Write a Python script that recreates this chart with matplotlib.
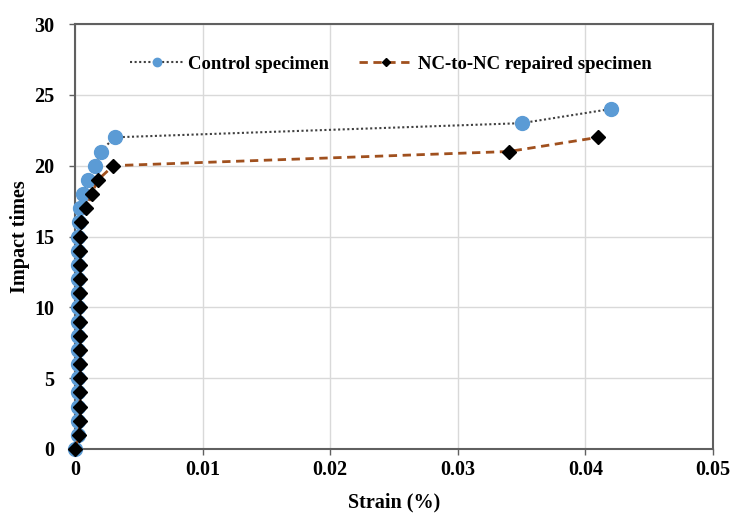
import matplotlib
matplotlib.use("Agg")
import matplotlib.pyplot as plt

impacts_control = list(range(0, 25))
strain_control = [0, 0.0002, 0.0002, 0.0002, 0.0002, 0.0002, 0.0002, 0.0002, 0.0002, 0.0002,
                  0.0002, 0.0002, 0.0002, 0.0002, 0.0002, 0.0002, 0.0003, 0.0004, 0.0006, 0.001,
                  0.0016, 0.002, 0.0031, 0.035, 0.042]
impacts_nc = list(range(0, 23))
strain_nc = [0, 0.0003, 0.0004, 0.0004, 0.0004, 0.0004, 0.0004, 0.0004, 0.0004, 0.0004,
             0.0004, 0.0004, 0.0004, 0.0004, 0.0004, 0.0004, 0.0005, 0.0009, 0.0013, 0.0018,
             0.003, 0.034, 0.041]

plt.rcParams['font.family'] = ['Liberation Serif', 'DejaVu Serif']
fig = plt.figure(figsize=(7.33, 5.16), dpi=100)
ax = fig.add_axes([75/733, 1-449/516, (713-75)/733, (449-24)/516])

ax.plot(strain_control, impacts_control, linestyle=(0, (1, 1.2)), color='#404040', lw=1.5,
        marker='o', markersize=10, markerfacecolor='#5B9BD5', markeredgecolor='#5B9BD5',
        label='Control specimen', zorder=3, clip_on=False)
ax.plot(strain_nc, impacts_nc, linestyle=(0, (3, 2)), color='#A0501E', lw=2,
        marker='D', markersize=7, markerfacecolor='black', markeredgecolor='black',
        label='NC-to-NC repaired specimen', zorder=4, clip_on=False)

ax.set_xlim(0, 0.05)
ax.set_ylim(0, 30)
ax.set_xticks([0, 0.01, 0.02, 0.03, 0.04, 0.05])
ax.set_xticklabels(['0', '0.01', '0.02', '0.03', '0.04', '0.05'])
ax.set_yticks(range(0, 31, 5))
ax.grid(True, color='#d9d9d9', lw=1)
ax.set_axisbelow(True)
for s in ['left', 'bottom', 'top', 'right']:
    ax.spines[s].set_color('#606060')
    ax.spines[s].set_linewidth(1.5)
ax.tick_params(labelsize=14.5, length=4, width=1, color='#606060', pad=4)
ax.tick_params(axis='y', pad=11)
for lab in ax.get_xticklabels() + ax.get_yticklabels():
    lab.set_fontweight('bold')
ax.set_xlabel('Strain (%)', fontsize=14.5, fontweight='bold', labelpad=9)
ax.set_ylabel('Impact times', fontsize=14.5, fontweight='bold', labelpad=3)
leg = ax.legend(loc='upper center', ncol=2, frameon=False, bbox_to_anchor=(0.495, 0.965),
                prop={'weight': 'bold', 'size': 13.5}, columnspacing=1.6, handlelength=2.8,
                handletextpad=0.3, markerscale=0.6)
fig.savefig('out.png', dpi=100)
